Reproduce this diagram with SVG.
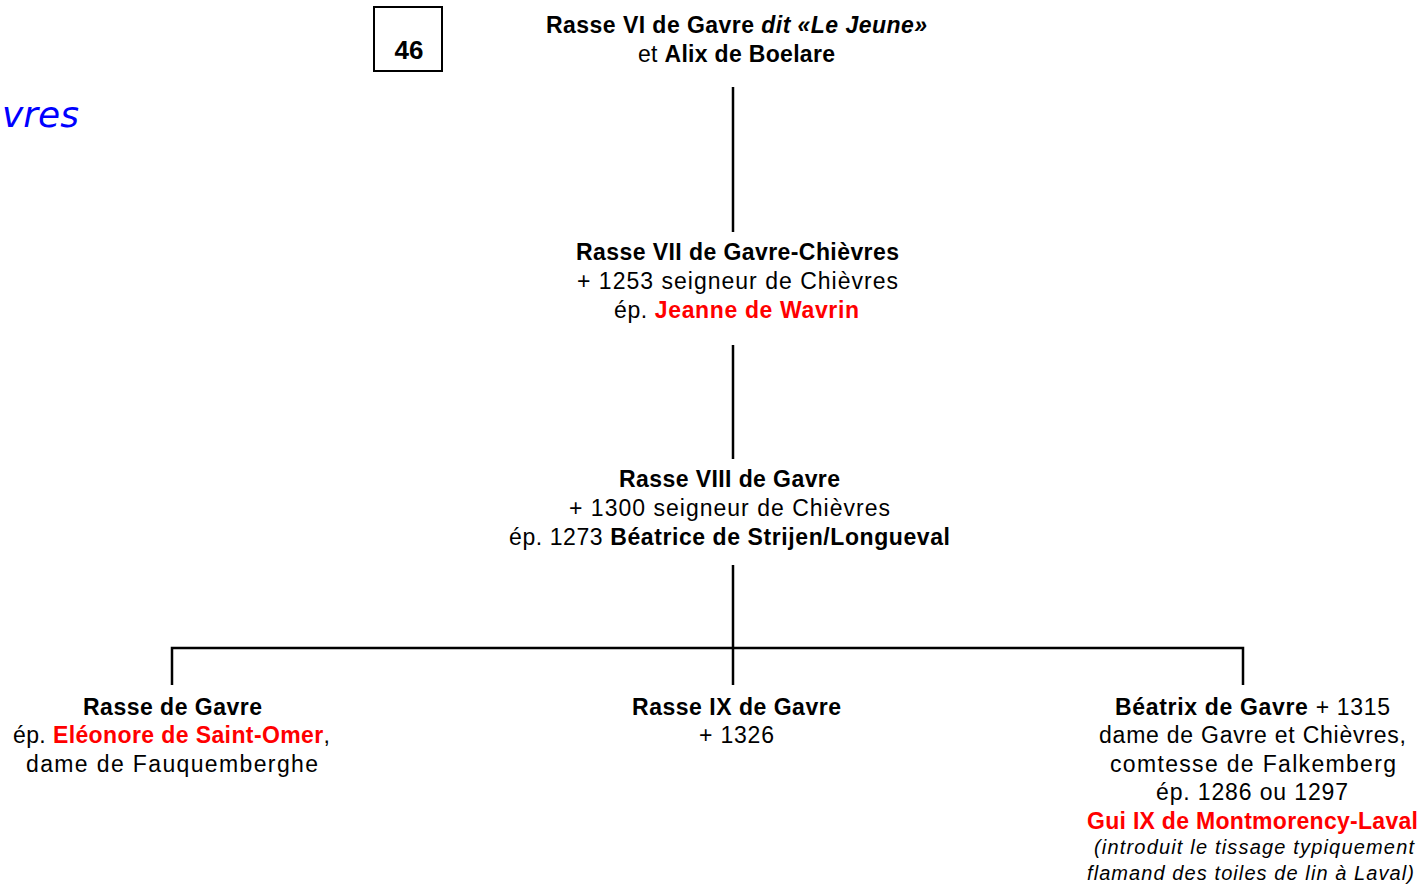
<svg xmlns="http://www.w3.org/2000/svg" width="1423" height="885" viewBox="0 0 1423 885">
<style>
text{font-family:"Liberation Sans",Arial,sans-serif;font-size:23px;fill:#000;text-anchor:middle}
.b{font-weight:bold}
.i{font-style:italic}
.r{fill:#ff0000;font-weight:bold}
.s{font-size:20px;font-style:italic}
.t{font-family:"DejaVu Sans",Verdana,sans-serif;font-style:italic;font-size:36px;fill:#0000ff;text-anchor:start}
line{stroke:#000;stroke-width:2.5;fill:none}
</style>
<rect width="1423" height="885" fill="#fff"/>
<text class="t" x="2" y="127">vres</text>
<g id="box46">
<rect x="374" y="7" width="68" height="64" fill="#fff" stroke="#000" stroke-width="2"/>
<text class="b" x="409" y="59" style="font-size:26px">46</text>
</g>
<g id="connectors">
<line x1="733" y1="87" x2="733" y2="232"/>
<line x1="733" y1="345" x2="733" y2="459"/>
<line x1="733" y1="565" x2="733" y2="685"/>
<polyline points="172,685 172,648 1243,648 1243,685" style="stroke:#000;stroke-width:2.5;fill:none"/>
</g>
<g id="n1">
<text x="736.5" y="33" textLength="381" lengthAdjust="spacing"><tspan class="b">Rasse VI de Gavre </tspan><tspan class="b i">dit «Le Jeune»</tspan></text>
<text x="736.5" y="62" textLength="197" lengthAdjust="spacing">et <tspan class="b">Alix de Boelare</tspan></text>
</g>
<g id="n2">
<text class="b" x="737.5" y="260" textLength="323" lengthAdjust="spacing">Rasse VII de Gavre-Chièvres</text>
<text x="737.5" y="289" textLength="321" lengthAdjust="spacing">+ 1253 seigneur de Chièvres</text>
<text x="736.5" y="318" textLength="245" lengthAdjust="spacing">ép. <tspan class="r">Jeanne de Wavrin</tspan></text>
</g>
<g id="n3">
<text class="b" x="729.5" y="487" textLength="221" lengthAdjust="spacing">Rasse VIII de Gavre</text>
<text x="729.5" y="516" textLength="321" lengthAdjust="spacing">+ 1300 seigneur de Chièvres</text>
<text x="729.5" y="545" textLength="441" lengthAdjust="spacing">ép. 1273 <tspan class="b">Béatrice de Strijen/Longueval</tspan></text>
</g>
<g id="n4">
<text class="b" x="172.5" y="715" textLength="179" lengthAdjust="spacing">Rasse de Gavre</text>
<text x="171.5" y="743" textLength="317" lengthAdjust="spacing">ép. <tspan class="r">Eléonore de Saint-Omer</tspan>,</text>
<text x="172" y="772" textLength="292" lengthAdjust="spacing">dame de Fauquemberghe</text>
</g>
<g id="n5">
<text class="b" x="736.5" y="715" textLength="209" lengthAdjust="spacing">Rasse IX de Gavre</text>
<text x="736.5" y="743" textLength="75" lengthAdjust="spacing">+ 1326</text>
</g>
<g id="n6">
<text x="1252.5" y="715" textLength="275" lengthAdjust="spacing"><tspan class="b">Béatrix de Gavre</tspan> + 1315</text>
<text x="1252.5" y="743" textLength="307" lengthAdjust="spacing">dame de Gavre et Chièvres,</text>
<text x="1253" y="772" textLength="286" lengthAdjust="spacing">comtesse de Falkemberg</text>
<text x="1252" y="800" textLength="192" lengthAdjust="spacing">ép. 1286 ou 1297</text>
<text class="r" x="1252.5" y="829" textLength="331" lengthAdjust="spacing">Gui IX de Montmorency-Laval</text>
<text class="s" x="1254" y="854" textLength="320" lengthAdjust="spacing">(introduit le tissage typiquement</text>
<text class="s" x="1250.5" y="880" textLength="327" lengthAdjust="spacing">flamand des toiles de lin à Laval)</text>
</g>
</svg>
